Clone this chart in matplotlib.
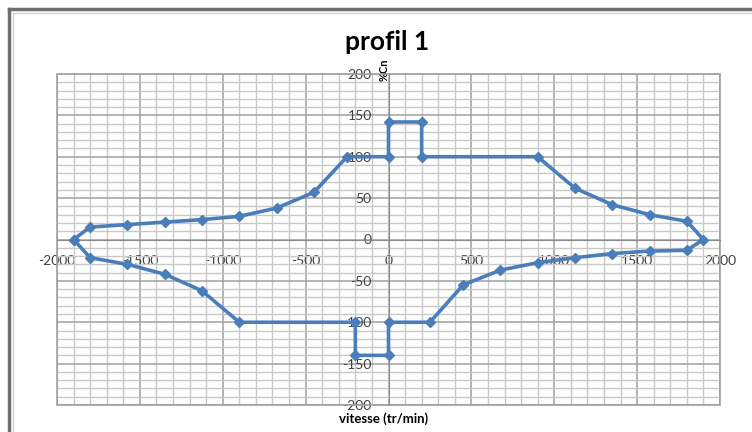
import matplotlib
matplotlib.use('Agg')
import matplotlib.pyplot as plt
from matplotlib.lines import Line2D
from matplotlib.patches import Rectangle
from matplotlib.ticker import MultipleLocator

# speed (tr/min) and torque (%Cn) of the closed profile
vitesse = [-1900, -1800, -1575, -1350, -1125, -900, -675, -450, -250, 0, 0,
           200, 200, 900, 1125, 1350, 1575, 1800, 1900,
           1800, 1575, 1350, 1125, 900, 675, 450, 250, 0, 0,
           -200, -200, -900, -1125, -1350, -1575, -1800, -1900]
couple = [0, 15, 18, 21, 24, 28, 38, 57, 100, 100, 142,
          142, 100, 100, 62, 42, 30, 22, 0,
          -13, -14, -17, -22, -28, -37, -55, -100, -100, -140,
          -140, -100, -100, -62, -42, -30, -22, 0]

x_ticks = list(range(-2000, 2001, 500))
y_ticks = list(range(-200, 201, 50))

W, H = 752, 432
fig = plt.figure(figsize=(W / 100, H / 100), dpi=100)
plt.rcParams['font.family'] = ['Lato', 'DejaVu Sans']
plt.rcParams['axes.unicode_minus'] = False

# plot area in pixels: left 57, right 720, top 74, bottom 405
ax = fig.add_axes([57 / W, (H - 405) / H, 663 / W, 331 / H])
ax.set_xlim(-2000, 2000)
ax.set_ylim(-200, 200)
ax.set_xticks(x_ticks)
ax.set_yticks(y_ticks)
ax.xaxis.set_minor_locator(MultipleLocator(100))
ax.yaxis.set_minor_locator(MultipleLocator(10))

ax.grid(which='major', color='#a0a0a0', lw=1.1)
ax.grid(which='minor', color='#c8c8c8', lw=1.0)
ax.set_axisbelow(True)

# axes crossing at zero, excel style
for s in ['top', 'right']:
    ax.spines[s].set_visible(False)
ax.spines['left'].set_position(('data', 0))
ax.spines['bottom'].set_position(('data', 0))
ax.spines['left'].set_color('#8c8c8c')
ax.spines['bottom'].set_color('#8c8c8c')
ax.add_patch(Rectangle((0, 0), 1, 1, transform=ax.transAxes, fill=False,
                       ec='#a0a0a0', lw=1.2, clip_on=False, zorder=1))

ax.tick_params(which='both', length=0, labelsize=10, labelcolor='#404040')
ax.tick_params(axis='x', pad=11)
ax.tick_params(axis='y', pad=12)

ax.plot(vitesse, couple, color='#4a7ebb', lw=2.6, marker='D', ms=5.5,
        mec='#4a7ebb', mfc='#4a7ebb', zorder=3, clip_on=False)

ax.set_xlabel('vitesse (tr/min)', fontsize=9.5, fontweight='bold')
ax.xaxis.set_label_coords(0.492, -0.04)
ax.set_ylabel('%Cn', fontsize=8, fontweight='bold')
ax.yaxis.set_label_coords(0.494, 1.012)
ax.yaxis.label.set_va('center')
ax.xaxis.label.set_va('center')

fig.text(387 / W, 1 - 42 / H, 'profil 1', ha='center', va='center',
         fontsize=19, fontweight='bold')

# chart area border (top and left only are visible)
fig.add_artist(Line2D([9 / W, 1], [1 - 9 / H, 1 - 9 / H], color='#6e6e6e', lw=2.5))
fig.add_artist(Line2D([9 / W, 9 / W], [0, 1 - 9 / H], color='#6e6e6e', lw=2.5))
fig.add_artist(Line2D([13 / W, 1], [1 - 13 / H, 1 - 13 / H], color='#d0d0d0', lw=1))
fig.add_artist(Line2D([13 / W, 13 / W], [0, 1 - 13 / H], color='#d0d0d0', lw=1))

fig.savefig('out.png', dpi=100)
